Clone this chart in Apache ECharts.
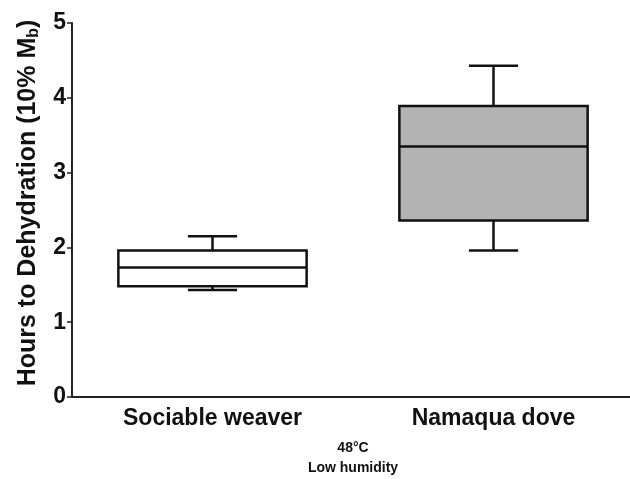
<!DOCTYPE html>
<html>
<head>
<meta charset="utf-8">
<script src="https://cdn.jsdelivr.net/npm/echarts@6/dist/echarts.min.js"></script>
<style>
  html, body { margin: 0; padding: 0; background: #fff; }
  #myChart { width: 630px; height: 479px; }
</style>
</head>
<body>
<div id="myChart"></div>
<script>
// 数据
const categories = ['Sociable weaver', 'Namaqua dove'];
const mins = [1.43, 1.96];
const q1s = [1.48, 2.36];
const medians = [1.73, 3.35];
const q3s = [1.96, 3.89];
const maxs = [2.15, 4.43];
const yTicks = [0, 1, 2, 3, 4, 5];

const fills = ['#ffffff', '#b3b3b3'];
const font = 'Liberation Sans, Arial, sans-serif';

const boxData = categories.map((c, i) => [i, mins[i], q1s[i], medians[i], q3s[i], maxs[i]]);

function renderBox(params, api) {
  const i = api.value(0);
  const band = api.size([1, 0])[0];
  const boxW = band * 0.67;
  const capW = band * 0.175;
  const pMin = api.coord([i, api.value(1)]);
  const pQ1 = api.coord([i, api.value(2)]);
  const pMed = api.coord([i, api.value(3)]);
  const pQ3 = api.coord([i, api.value(4)]);
  const pMax = api.coord([i, api.value(5)]);
  const x = pQ1[0];
  const line = { stroke: '#111', lineWidth: 2.5, fill: null };
  return {
    type: 'group',
    children: [
      { type: 'line', shape: { x1: x, y1: pQ3[1], x2: x, y2: pMax[1] }, style: line },
      { type: 'line', shape: { x1: x - capW / 2, y1: pMax[1], x2: x + capW / 2, y2: pMax[1] }, style: line },
      { type: 'line', shape: { x1: x, y1: pQ1[1], x2: x, y2: pMin[1] }, style: line },
      { type: 'line', shape: { x1: x - capW / 2, y1: pMin[1], x2: x + capW / 2, y2: pMin[1] }, style: line },
      { type: 'rect', shape: { x: x - boxW / 2, y: pQ3[1], width: boxW, height: pQ1[1] - pQ3[1] },
        style: { fill: fills[params.dataIndex], stroke: '#111', lineWidth: 2.5 } },
      { type: 'line', shape: { x1: x - boxW / 2, y1: pMed[1], x2: x + boxW / 2, y2: pMed[1] }, style: line }
    ]
  };
}

let option = {
  animation: false,
  backgroundColor: '#fff',
  grid: { left: 72, right: -4, top: 23, bottom: 82, outerBoundsMode: 'none', containLabel: false },
  xAxis: {
    type: 'category',
    data: categories,
    boundaryGap: true,
    axisLine: { lineStyle: { color: '#222', width: 2 } },
    axisTick: { alignWithLabel: true, length: 4, lineStyle: { color: '#222', width: 1.5 }, interval: 0 },
    axisLabel: { fontFamily: font, fontSize: 23, fontWeight: 'bold', color: '#111', margin: 10, interval: 0 },
    name: '48°C\nLow humidity',
    nameLocation: 'middle',
    nameGap: 41,
    nameTextStyle: { fontFamily: font, fontSize: 14, fontWeight: 'bold', color: '#111', lineHeight: 20 }
  },
  yAxis: {
    type: 'value',
    min: yTicks[0],
    max: yTicks[yTicks.length - 1],
    interval: 1,
    splitLine: { show: false },
    axisLine: { show: true, lineStyle: { color: '#222', width: 2 } },
    axisTick: { show: true, length: 5, lineStyle: { color: '#222', width: 1.5 } },
    axisLabel: { fontFamily: font, fontSize: 23, fontWeight: 'bold', color: '#111', margin: 6 },
    name: '{a|Hours to Dehydration (10% M}{s|b}{a|)}',
    nameLocation: 'middle',
    nameGap: 30,
    nameTextStyle: {
      padding: [0, 0, 0, 14],
      rich: {
        a: { fontFamily: font, fontSize: 25, fontWeight: 'bold', color: '#111' },
        s: { fontFamily: font, fontSize: 16, fontWeight: 'bold', color: '#111', padding: [12, 0, 0, 0] }
      }
    }
  },
  series: [{
    type: 'custom',
    renderItem: renderBox,
    encode: { x: 0, y: [1, 2, 3, 4, 5] },
    data: boxData
  }]
};

const myChartOne = echarts.init(document.getElementById('myChart'));
myChartOne.setOption(option);
</script>
</body>
</html>
